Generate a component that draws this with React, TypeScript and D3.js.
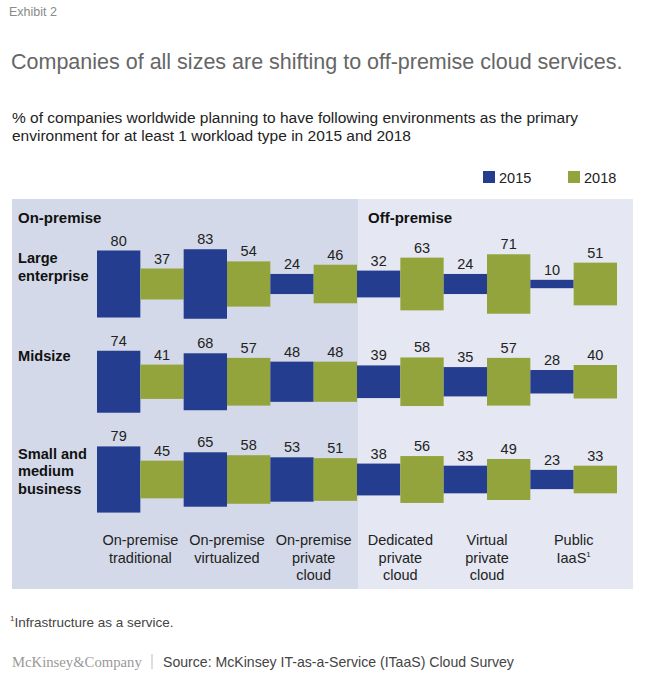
import React from "react";
import * as d3 from "d3";

const categories = [
  ["On-premise", "traditional"],
  ["On-premise", "virtualized"],
  ["On-premise", "private", "cloud"],
  ["Dedicated", "private", "cloud"],
  ["Virtual", "private", "cloud"],
  ["Public", "IaaS"],
];
const rowNames = [["Large", "enterprise"], ["Midsize"], ["Small and", "medium", "business"]];
const values2015 = [
  [80, 83, 24, 32, 24, 10],
  [74, 68, 48, 39, 35, 28],
  [79, 65, 53, 38, 33, 23],
];
const values2018 = [
  [37, 54, 46, 63, 71, 51],
  [41, 57, 48, 58, 57, 40],
  [45, 58, 51, 56, 49, 33],
];
const years = ["2015", "2018"];

const BLUE = "#253d8f";
const GREEN = "#94a43c";
const FONT = "'Liberation Sans', Arial, Helvetica, sans-serif";

export default function App() {
  const x = d3.scaleBand<number>().domain(d3.range(categories.length)).range([97, 617]).paddingInner(0);
  const xs = d3.scaleBand<string>().domain(years).range([0, x.bandwidth()]);
  const y = d3.scalePoint<number>().domain(d3.range(rowNames.length)).range([284, 479.5]);
  const h = d3.scaleLinear().domain([0, 100]).range([0, 83.75]);
  const color = d3.scaleOrdinal<string, string>().domain(years).range([BLUE, GREEN]);

  const bars: any[] = [];
  rowNames.forEach((_, r) => {
    categories.forEach((_, c) => {
      [values2015[r][c], values2018[r][c]].forEach((v, k) => {
        const yr = years[k];
        bars.push({ r, c, yr, v, x: (x(c) as number) + (xs(yr) as number), w: xs.bandwidth(), cy: y(r) as number, hh: h(v) });
      });
    });
  });

  return (
    <svg width={649} height={675} style={{ position: "absolute", left: 0, top: 0, fontFamily: FONT }}>
      <rect x={0} y={0} width={649} height={675} fill="#fff" />
      <text x={9} y={16} fontSize={12.5} fill="#8a8a8a">Exhibit 2</text>
      <text x={11} y={69} fontSize={21.5} fill="#666">Companies of all sizes are shifting to off-premise cloud services.</text>
      <text x={12} y={123} fontSize={15.5} fill="#222">% of companies worldwide planning to have following environments as the primary</text>
      <text x={12} y={141} fontSize={15.5} fill="#222">environment for at least 1 workload type in 2015 and 2018</text>

      {years.map((yr, i) => (
        <g key={yr} transform={`translate(${483 + i * 85},171)`}>
          <rect width={12} height={12} fill={color(yr)} />
          <text x={16} y={11.5} fontSize={14.5} fill="#222">{yr}</text>
        </g>
      ))}

      <rect x={12} y={199} width={346} height={390} fill="#d3d9e8" />
      <rect x={358} y={199} width={275} height={390} fill="#e5e8f2" />
      <text x={18} y={222.5} fontSize={15} fontWeight="bold" fill="#111">On-premise</text>
      <text x={368} y={222.5} fontSize={15} fontWeight="bold" fill="#111">Off-premise</text>

      {rowNames.map((lines, r) => (
        <text key={r} fontSize={14.6} fontWeight="bold" fill="#111">
          {lines.map((l, i) => (
            <tspan key={i} x={18} y={(y(r) as number) - 21 + i * 17.5}>{l}</tspan>
          ))}
        </text>
      ))}

      {bars.map((b, i) => (
        <g key={i}>
          <rect x={b.x} y={b.cy - b.hh / 2} width={b.w} height={b.hh} fill={color(b.yr)} />
          <text x={b.x + b.w / 2} y={b.cy - b.hh / 2 - 5} textAnchor="middle" fontSize={14.5} fill="#222">{b.v}</text>
        </g>
      ))}

      {categories.map((lines, c) => (
        <text key={c} textAnchor="middle" fontSize={14.5} fill="#222">
          {lines.map((l, i) => (
            <tspan key={i} x={(x(c) as number) + x.bandwidth() / 2} y={545 + i * 17.5}>
              {l}
              {c === 5 && i === 1 ? <tspan fontSize={8} dy={-6}>1</tspan> : null}
            </tspan>
          ))}
        </text>
      ))}

      <text x={10} y={627} fontSize={13.5} fill="#444">
        <tspan fontSize={8} dy={-6}>1</tspan>
        <tspan dy={6}>Infrastructure as a service.</tspan>
      </text>

      <text x={12} y={667} fontSize={14.7} fill="#999" fontFamily="'Liberation Serif', 'DejaVu Serif', serif">McKinsey&amp;Company</text>
      <line x1={152} x2={152} y1={654} y2={669} stroke="#bbb" strokeWidth={1} />
      <text x={163} y={667} fontSize={14.1} fill="#444">Source: McKinsey IT-as-a-Service (ITaaS) Cloud Survey</text>
    </svg>
  );
}
